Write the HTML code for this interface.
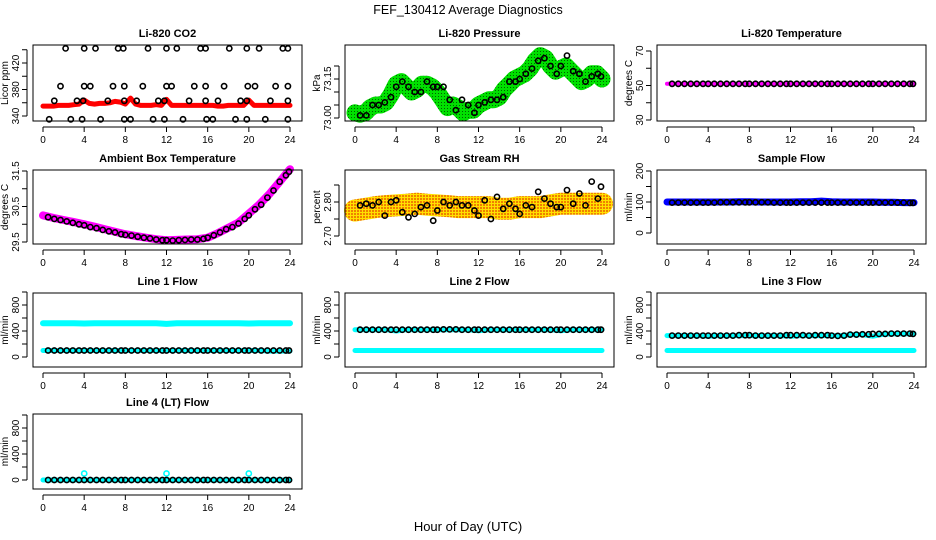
<!DOCTYPE html>
<html><head><meta charset="utf-8"><style>
html,body{margin:0;padding:0;background:#fff;}
svg{display:block;font-family:"Liberation Sans",Arial,sans-serif;}
</style></head><body>
<svg id="chart" width="936" height="540" viewBox="0 0 936 540" xmlns="http://www.w3.org/2000/svg">
<defs>
<pattern id="rhpat" width="3" height="3" patternUnits="userSpaceOnUse"><rect width="3" height="3" fill="#ffe000"/><rect width="2" height="2" fill="#f08000"/></pattern>
<pattern id="grpat" width="3" height="3" patternUnits="userSpaceOnUse"><rect width="3" height="3" fill="#00e000"/><rect width="1" height="1" fill="#006000"/></pattern>
</defs>
<text x="468" y="14" text-anchor="middle" font-size="12.5">FEF_130412  Average Diagnostics</text>
<text x="468" y="531" text-anchor="middle" font-size="13">Hour of Day (UTC)</text>
</svg>
<script>
// ---- data ----
const xTicks = [0,4,8,12,16,20,24];
const hoursHalf = [0,0.5,1,1.5,2,2.5,3,3.5,4,4.5,5,5.5,6,6.5,7,7.5,8,8.5,9,9.5,10,10.5,11,11.5,12,12.5,13,13.5,14,14.5,15,15.5,16,16.5,17,17.5,18,18.5,19,19.5,20,20.5,21,21.5,22,22.5,23,23.5,24];
const hoursCirc = [0.5,1.1,1.7,2.3,2.9,3.5,4,4.6,5.2,5.8,6.4,7,7.6,8,8.6,9.2,9.8,10.4,11,11.6,12,12.6,13.2,13.8,14.4,15,15.6,16,16.6,17.2,17.8,18.4,19,19.6,20,20.6,21.2,21.8,22.4,23,23.6,23.9];
const hoursHourly = [0,1,2,3,4,5,6,7,8,9,10,11,12,13,14,15,16,17,18,19,20,21,22,23,24];

// CO2
const co2Band = [355,355,355,356,356,356,357,358,364,359,358,359,359,360,362,361,358,367,358,356,356,356,357,356,365,356,356,356,356,356,356,356,356,356,355,355,356,356,356,356,364,356,356,356,356,356,356,356,356];
const co2CircH = [2.2,4,5.1,7.3,7.8,10.2,12,13,15.3,15.8,18.1,19.8,21,23.3,23.8, 1.7,4,4.6,6.8,7.9,9.7,12,12.5,14.7,15.8,17.6,19.9,20.6,22.6,23.8, 1.1,3.3,3.9,6.3,7.9,9.1,11.2,11.8,14.2,15.8,17,19.2,19.8,22.1,23.8, 0.6,2.7,3.8,5.6,7.9,8.5,10.7,11.8,13.6,15.9,16.5,18.7,19.8,21.6,23.8];
const co2CircV = [442,442,442,442,442,442,442,442,442,442,442,442,442,442,442, 385,385,385,385,385,385,385,385,385,385,385,385,385,385,385, 363,363,363,363,363,363,363,363,363,363,363,363,363,363,363, 335,335,335,335,335,335,335,335,335,335,335,335,335,335,335];

// Pressure
const presBand = [73.02,73.015,73.02,73.04,73.05,73.05,73.06,73.09,73.13,73.14,73.12,73.1,73.11,73.13,73.13,73.12,73.1,73.07,73.04,73.05,73.04,73.02,73.03,73.03,73.05,73.06,73.07,73.07,73.08,73.11,73.13,73.15,73.16,73.17,73.19,73.22,73.24,73.23,73.2,73.18,73.19,73.2,73.18,73.16,73.14,73.15,73.17,73.17,73.15];
const presCirc = [73.01,73.01,73.05,73.05,73.06,73.08,73.12,73.14,73.12,73.1,73.1,73.14,73.12,73.12,73.12,73.07,73.03,73.07,73.05,73.02,73.05,73.06,73.07,73.07,73.08,73.14,73.14,73.15,73.17,73.19,73.22,73.23,73.2,73.17,73.2,73.24,73.18,73.17,73.14,73.16,73.17,73.16];

// Li-820 Temperature
const tempBand = [51,51,51,51,51,51,51,51,51,51,51,51,51,51,51,51,51,51,51,51,51,51,51,51,51];
const tempCirc = [51,51,51,51,51,51,51,51,51,51,51,51,51,51,51,51,51,51,51,51,51,51,51,51,51,51,51,51,51,51,51,51,51,51,51,51,51,51,51,51,51,51];

// Ambient box temp
const ambBand = [30.25,30.18,30.12,30.06,30.0,29.93,29.86,29.79,29.72,29.67,29.62,29.58,29.55,29.56,29.57,29.58,29.62,29.75,29.9,30.05,30.3,30.55,30.85,31.2,31.55];
const ambCirc = [30.2,30.15,30.12,30.08,30.04,30.0,29.97,29.92,29.89,29.84,29.8,29.77,29.72,29.7,29.68,29.65,29.62,29.6,29.57,29.55,29.55,29.54,29.55,29.56,29.57,29.57,29.59,29.62,29.69,29.77,29.86,29.92,30.02,30.15,30.25,30.42,30.55,30.75,30.95,31.2,31.38,31.48];

// Gas stream RH
const rhBand = [2.775,2.78,2.785,2.788,2.79,2.792,2.795,2.792,2.79,2.788,2.785,2.785,2.785,2.785,2.78,2.78,2.785,2.785,2.785,2.79,2.795,2.795,2.795,2.795,2.795];
const rhCirc = [2.79,2.795,2.79,2.8,2.76,2.8,2.805,2.77,2.755,2.765,2.785,2.79,2.745,2.775,2.8,2.79,2.8,2.79,2.79,2.775,2.76,2.805,2.75,2.815,2.78,2.795,2.78,2.765,2.79,2.785,2.83,2.81,2.795,2.785,2.785,2.835,2.795,2.825,2.79,2.86,2.81,2.845];

// Sample flow
const sampBand = [100,100,100,100,100,100,100,101,101,100,100,100,100,101,101,103,101,100,100,100,100,99,99,98,98];
const sampCirc = [98,98,98,98,98,98,98,98,99,99,99,99,99,99,99,99,99,98,98,98,98,98,98,98,98,98,98,98,98,98,98,98,98,98,98,98,98,98,98,98,97,97];

// Line flows
const l1High = [520,520,520,520,515,520,520,520,520,520,520,520,510,520,520,520,520,520,520,520,515,520,520,520,520];
const l1Low = [100,100,100,100,100,100,100,100,100,100,100,100,100,100,100,100,100,100,100,100,100,100,90,90,90];
const l1Circ = [100,100,100,100,100,100,100,100,100,100,100,100,100,100,100,100,100,100,100,100,100,100,100,100,100,100,100,100,100,100,100,100,100,100,100,100,100,100,100,100,100,100];
const l2High = [420,420,420,420,400,420,420,420,420,420,420,420,405,420,420,420,420,420,420,420,405,420,420,420,420];
const l2Low = [100,100,100,100,100,100,100,100,100,100,100,100,100,100,100,100,100,100,100,100,100,100,100,100,100];
const l2Circ = [420,420,420,420,420,420,420,420,420,420,420,420,420,420,425,425,425,420,420,420,420,420,420,420,420,420,420,420,420,420,420,420,420,420,420,420,420,420,420,420,420,420];
const l3High = [330,330,330,330,320,330,330,330,330,330,330,330,320,330,330,330,330,330,345,345,320,350,355,355,360];
const l3Low = [100,100,100,100,100,100,100,100,100,100,100,100,100,100,100,100,100,100,100,100,100,100,100,100,100];
const l3Circ = [330,330,330,330,330,330,330,330,330,330,330,335,335,335,330,330,330,330,330,335,335,335,335,330,335,335,335,330,325,330,345,345,350,350,355,355,355,360,360,360,360,355];
const l4Low = [0,0,0,0,0,0,0,0,0,0,0,0,0,0,0,0,0,0,0,0,0,0,0,0,0];
const l4Spike = [100,100,100];
const l4SpikeH = [4,12,20];
const l4Circ = [0,0,0,0,0,0,0,0,0,0,0,0,0,0,0,0,0,0,0,0,0,0,0,0,0,0,0,0,0,0,0,0,0,0,0,0,0,0,0,0,0,0];

// ---- drawing ----
const svg = document.getElementById('chart');
const NS = 'http://www.w3.org/2000/svg';
function mk(tag, attrs, parent){
  const e = document.createElementNS(NS, tag);
  for (const k in attrs) e.setAttribute(k, attrs[k]);
  (parent||svg).appendChild(e);
  return e;
}
const rowBox = [[45,121],[170,244],[293,367],[414,489]];

function panel(o){
  const L = 33 + 312*o.col, R = 302 + 312*o.col;
  const T = rowBox[o.row][0], B = rowBox[o.row][1];
  const g = mk('g', {});
  
  
  const xs = h => 43 + 312*o.col + h*(247/24);
  const ys = v => o.p1 + (v - o.v1)*(o.p2 - o.p1)/(o.v2 - o.v1);
  const t = mk('text', {x:(L+R)/2, y:T-8, 'text-anchor':'middle', 'font-size':11, 'font-weight':'bold'}, g);
  t.textContent = o.title;
  
  
  const data = mk('g', {}, g);
  
  
  o.bands.forEach(b => {
    const pts = b.h.map((h,i) => xs(h).toFixed(1)+','+ys(b.v[i]).toFixed(1)).join(' ');
    const pl = mk('polyline', {points:pts, fill:'none', stroke:b.color, 'stroke-width':b.w, 'stroke-linecap':'round', 'stroke-linejoin':'round'}, data);
    
    
  });
  o.circles.forEach(c => {
    c.h.forEach((h,i) => {
      const ci = mk('circle', {cx:xs(h).toFixed(1), cy:ys(c.v[i]).toFixed(1), r:2.6, fill:'none', stroke:c.color, 'stroke-width':1.6}, data);
      
      
    });
  });
  const box = mk('rect', {x:L, y:T, width:R-L, height:B-T, fill:'none', stroke:'#000', 'stroke-width':1}, g);
  
  
  mk('line', {x1:xs(0), x2:xs(24), y1:B+6, y2:B+6, stroke:'#000'}, g);
  xTicks.forEach(v => {
    mk('line', {x1:xs(v), x2:xs(v), y1:B+6, y2:B+11, stroke:'#000'}, g);
    const tl = mk('text', {x:xs(v), y:B+22, 'text-anchor':'middle', 'font-size':10}, g);
    tl.textContent = v;
    
    
  });
  const yt = o.ticks;
  mk('line', {x1:L-6, x2:L-6, y1:ys(yt[0]), y2:ys(yt[yt.length-1]), stroke:'#000'}, g);
  yt.forEach(v => {
    mk('line', {x1:L-11, x2:L-6, y1:ys(v), y2:ys(v), stroke:'#000'}, g);
  });
  o.labels.forEach(v => {
    const y = ys(v);
    const tl = mk('text', {x:L-14, y:y, 'text-anchor':'middle', 'font-size':10, transform:'rotate(-90 '+(L-14)+' '+y+')'}, g);
    tl.textContent = o.fmt ? v.toFixed(o.fmt) : v;
    
    
  });
  const yl = mk('text', {x:L-25, y:(T+B)/2, 'text-anchor':'middle', 'font-size':10, transform:'rotate(-90 '+(L-25)+' '+(T+B)/2+')'}, g);
  yl.textContent = o.ylab;
  
  
}

const flowTicks=[0,200,400,600,800,1000], flowLabels=[0,400,800];
panel({name:'co2-panel',col:0,row:0,title:'Li-820 CO2',ylab:'Licor ppm',v1:340,p1:116,v2:420,p2:63,ticks:[340,360,380,400,420,440],labels:[340,380,420],
  bands:[{name:'co2-band',h:hoursHalf,v:co2Band,color:'#ff0000',w:5}],
  circles:[{name:'co2-point',h:co2CircH,v:co2CircV,color:'#000'}]});
panel({name:'pressure-panel',col:1,row:0,title:'Li-820 Pressure',ylab:'kPa',v1:73.0,p1:118,v2:73.15,p2:79,fmt:2,ticks:[73.0,73.05,73.1,73.15,73.2],labels:[73.0,73.15],
  bands:[{name:'pressure-band',h:hoursHalf,v:presBand,color:'url(#grpat)',w:17}],
  circles:[{name:'pressure-point',h:hoursCirc,v:presCirc,color:'#000'}]});
panel({name:'licor-temp-panel',col:2,row:0,title:'Li-820 Temperature',ylab:'degrees C',v1:30,p1:120,v2:70,p2:51,ticks:[30,40,50,60,70],labels:[30,50,70],
  bands:[{name:'licor-temp-band',h:hoursHourly,v:tempBand,color:'#ff00ff',w:4}],
  circles:[{name:'licor-temp-point',h:hoursCirc,v:tempCirc,color:'#000'}]});
panel({name:'ambient-temp-panel',col:0,row:1,title:'Ambient Box Temperature',ylab:'degrees C',v1:29.5,p1:242,v2:31.5,p2:171,fmt:1,ticks:[29.5,30,30.5,31,31.5],labels:[29.5,30.5,31.5],
  bands:[{name:'ambient-temp-band',h:hoursHourly,v:ambBand,color:'#ff00ff',w:8}],
  circles:[{name:'ambient-temp-point',h:hoursCirc,v:ambCirc,color:'#000'}]});
panel({name:'rh-panel',col:1,row:1,title:'Gas Stream RH',ylab:'percent',v1:2.70,p1:236,v2:2.80,p2:202,fmt:2,ticks:[2.70,2.75,2.8,2.85],labels:[2.70,2.80],
  bands:[{name:'rh-band',h:hoursHourly,v:rhBand,color:'url(#rhpat)',w:22}],
  circles:[{name:'rh-point',h:hoursCirc,v:rhCirc,color:'#000'}]});
panel({name:'sample-flow-panel',col:2,row:1,title:'Sample Flow',ylab:'ml/min',v1:0,p1:233,v2:200,p2:171,ticks:[0,50,100,150,200],labels:[0,100,200],
  bands:[{name:'sample-flow-band',h:hoursHourly,v:sampBand,color:'#0000ff',w:7}],
  circles:[{name:'sample-flow-point',h:hoursCirc,v:sampCirc,color:'#000'}]});
panel({name:'line1-panel',col:0,row:2,title:'Line 1 Flow',ylab:'ml/min',v1:0,p1:357,v2:800,p2:305,ticks:flowTicks,labels:flowLabels,
  bands:[{name:'line1-high-band',h:hoursHourly,v:l1High,color:'#00ffff',w:6},{name:'line1-low-band',h:hoursHourly,v:l1Low,color:'#00ffff',w:5}],
  circles:[{name:'line1-point',h:hoursCirc,v:l1Circ,color:'#000'}]});
panel({name:'line2-panel',col:1,row:2,title:'Line 2 Flow',ylab:'ml/min',v1:0,p1:357,v2:800,p2:305,ticks:flowTicks,labels:flowLabels,
  bands:[{name:'line2-high-band',h:hoursHourly,v:l2High,color:'#00ffff',w:5},{name:'line2-low-band',h:hoursHourly,v:l2Low,color:'#00ffff',w:5}],
  circles:[{name:'line2-point',h:hoursCirc,v:l2Circ,color:'#000'}]});
panel({name:'line3-panel',col:2,row:2,title:'Line 3 Flow',ylab:'ml/min',v1:0,p1:357,v2:800,p2:305,ticks:flowTicks,labels:flowLabels,
  bands:[{name:'line3-high-band',h:hoursHourly,v:l3High,color:'#00ffff',w:5},{name:'line3-low-band',h:hoursHourly,v:l3Low,color:'#00ffff',w:5}],
  circles:[{name:'line3-point',h:hoursCirc,v:l3Circ,color:'#000'}]});
panel({name:'line4-panel',col:0,row:3,title:'Line 4 (LT) Flow',ylab:'ml/min',v1:0,p1:480,v2:800,p2:428,ticks:flowTicks,labels:flowLabels,
  bands:[{name:'line4-band',h:hoursHourly,v:l4Low,color:'#00ffff',w:5}],
  circles:[{name:'line4-spike-point',h:l4SpikeH,v:l4Spike,color:'#00ffff'},{name:'line4-point',h:hoursCirc,v:l4Circ,color:'#000'}]});
</script>
</body></html>
